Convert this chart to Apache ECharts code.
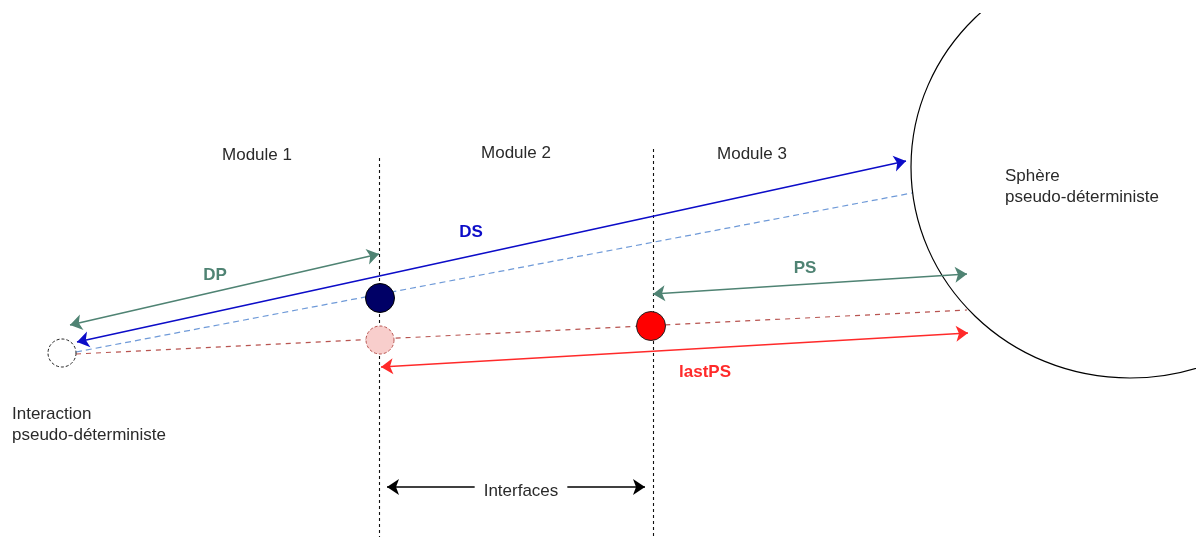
<!DOCTYPE html>
<html>
<head>
<meta charset="utf-8">
<script src="https://cdn.jsdelivr.net/npm/echarts@6/dist/echarts.min.js"></script>
<style>
  html, body { margin: 0; padding: 0; background: #fff; }
  #chart { width: 1196px; height: 537px; }
</style>
</head>
<body>
<div id="chart"></div>
<script>
// ---- Diagram data (coordinates in diagram units = pixels of the 1196x537 drawing) ----
const moduleBoundaries = [[[379, 158], [379, 537]], [[653, 149], [653, 537]]];
const dsArrow = [[77, 342], [906, 161]];
const dpArrow = [[70, 325], [379, 254]];
const psArrow = [[653, 294], [967, 274]];
const lastPsArrow = [[381, 367], [968, 333]];
const interfacesArrow = [[387, 487], [645, 487]];
const blueDashedPath = [[76, 352], [912, 193]];
const redDashedPath = [[76, 354], [967, 310]];

const interactionPoint = [62, 353];
const dsPoint = [380, 298];
const dpGhostPoint = [380, 340];
const psPoint = [651, 326];

const sphereCenter = [1130, 167];
const sphereRadii = [219, 211];

const moduleLabels = [[257, 155, 'Module 1'], [516, 153, 'Module 2'], [752, 154, 'Module 3']];
const arrowLabels = [[471, 232, 'DS'], [215, 275, 'DP'], [805, 268, 'PS'], [705, 372, 'lastPS']];
const blockLabels = [[12, 425, 'Interaction\npseudo-déterministe'], [1005, 187, 'Sphère\npseudo-déterministe']];
const interfacesLabel = [521, 491, 'Interfaces'];

// ---- Styles ----
const FONT = '"Liberation Sans", Arial, Helvetica, sans-serif';
const TEXT = '#2a2a2a';
const GREEN = '#4f8373';
const BLUE = '#0c0cc8';
const RED = '#ff2a2a';
const labelColors = { 'DS': BLUE, 'DP': GREEN, 'PS': GREEN, 'lastPS': RED };

function arrowSeries(name, coords, color, width) {
  return {
    name, type: 'lines', coordinateSystem: 'cartesian2d', z: 4,
    symbol: ['arrow', 'arrow'], symbolSize: 12,
    lineStyle: { color, width, opacity: 1 },
    data: [{ coords }], silent: true, animation: false
  };
}
function dashedSeries(name, lines, color, dash, z, width) {
  return {
    name, type: 'lines', coordinateSystem: 'cartesian2d', z: z,
    symbol: ['none', 'none'],
    lineStyle: { color, width: width || 1, type: dash, opacity: 1 },
    data: lines.map(c => ({ coords: c })), silent: true, animation: false
  };
}
function pointSeries(name, pt, fill, border, dashed, size) {
  return {
    name, type: 'scatter', z: 6, symbol: 'circle', symbolSize: size,
    itemStyle: { color: fill, borderColor: border, borderWidth: 1, borderType: dashed ? [3, 2] : 'solid', opacity: 1 },
    data: [pt], silent: true, animation: false
  };
}

const chart = echarts.init(document.getElementById('chart'), null, { renderer: 'canvas' });
chart.setOption({
  backgroundColor: '#ffffff',
  animation: false,
  grid: { left: 0, right: 0, top: 13, bottom: 0 },
  xAxis: { type: 'value', min: 0, max: 1196, show: false },
  yAxis: { type: 'value', min: 13, max: 537, inverse: true, show: false },
  series: [
    {
      name: 'sphere', type: 'custom', clip: true, z: 2, silent: true,
      data: [[sphereCenter[0], sphereCenter[1], sphereRadii[0], sphereRadii[1]]],
      renderItem: function (params, api) {
        const c = api.coord([api.value(0), api.value(1)]);
        const s = api.size([api.value(2), api.value(3)]);
        return {
          type: 'ellipse',
          shape: { cx: c[0], cy: c[1], rx: s[0], ry: s[1] },
          style: { fill: null, stroke: '#000', lineWidth: 1.2 }
        };
      }
    },
    dashedSeries('module boundaries', moduleBoundaries, '#111', [3, 3], 1, 1.1),
    dashedSeries('DS path', [blueDashedPath], '#6f9ad8', [6, 4], 3, 1.2),
    dashedSeries('PS path', [redDashedPath], '#b85450', [5, 5], 3, 1.2),
    arrowSeries('DS', dsArrow, BLUE, 1.6),
    arrowSeries('DP', dpArrow, GREEN, 1.6),
    arrowSeries('PS', psArrow, GREEN, 1.6),
    arrowSeries('lastPS', lastPsArrow, RED, 1.6),
    arrowSeries('Interfaces', interfacesArrow, '#000', 1.6),
    pointSeries('interaction', interactionPoint, '#ffffff', '#222222', true, 28),
    pointSeries('DS point', dsPoint, '#000066', '#000000', false, 29),
    pointSeries('DP ghost', dpGhostPoint, '#f8cecc', '#b85450', true, 28),
    pointSeries('PS point', psPoint, '#ff0000', '#222222', false, 29),
    {
      name: 'texts', type: 'scatter', z: 10, symbolSize: 1, silent: true,
      itemStyle: { color: 'rgba(0,0,0,0)' },
      data: [].concat(
        moduleLabels.map(d => ({ value: [d[0], d[1]], name: d[2],
          label: { align: 'center', color: TEXT, fontWeight: 'normal' } })),
        arrowLabels.map(d => ({ value: [d[0], d[1]], name: d[2],
          label: { align: 'center', color: labelColors[d[2]], fontWeight: 'bold' } })),
        blockLabels.map(d => ({ value: [d[0], d[1]], name: d[2],
          label: { align: 'left', color: TEXT, fontWeight: 'normal', lineHeight: 21 } })),
        [{ value: [interfacesLabel[0], interfacesLabel[1]], name: interfacesLabel[2],
          label: { align: 'center', color: TEXT, backgroundColor: '#ffffff', padding: [2, 9] } }]
      ),
      label: {
        show: true, position: 'inside', verticalAlign: 'middle', opacity: 1,
        fontFamily: FONT, fontSize: 17,
        formatter: p => p.name
      }
    }
  ]
});
</script>
</body>
</html>
